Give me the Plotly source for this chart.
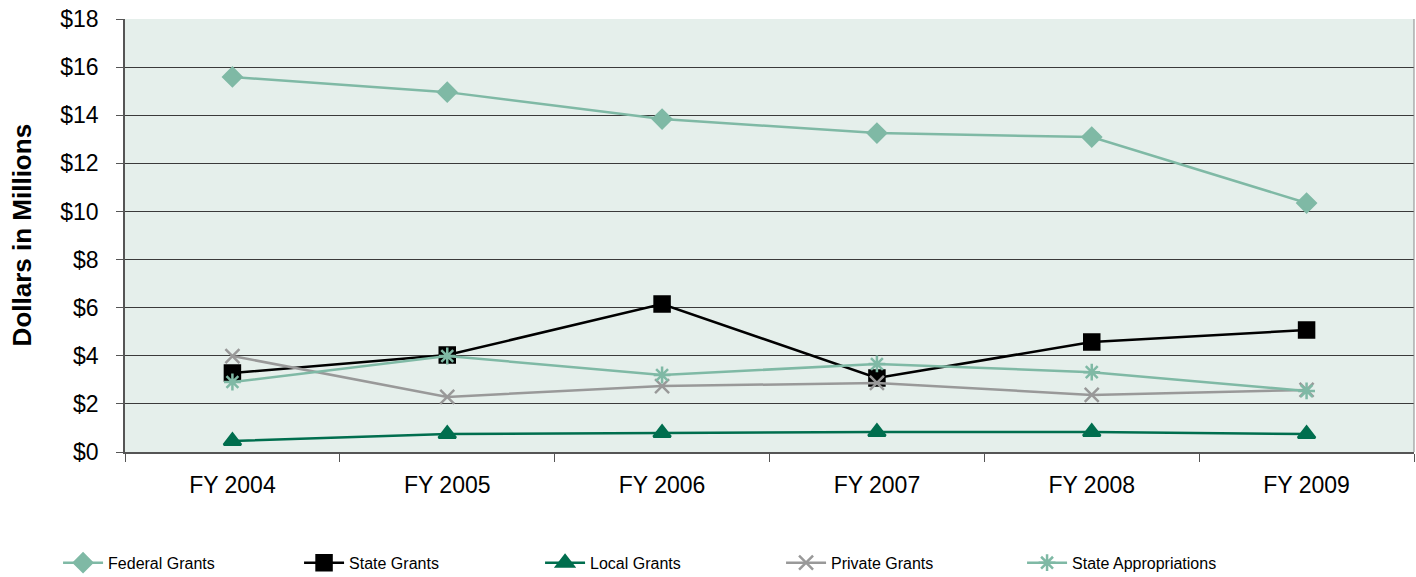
import plotly.graph_objects as go

years = ["FY 2004", "FY 2005", "FY 2006", "FY 2007", "FY 2008", "FY 2009"]
federal_grants = [15.59, 14.96, 13.84, 13.26, 13.09, 10.35]
state_grants = [3.28, 4.03, 6.15, 3.08, 4.57, 5.07]
local_grants = [0.46, 0.75, 0.79, 0.83, 0.83, 0.75]
private_grants = [3.99, 2.29, 2.74, 2.87, 2.37, 2.58]
state_appropriations = [2.91, 3.99, 3.20, 3.66, 3.32, 2.54]
y_ticks = list(range(0, 19, 2))

LIGHT = "#7FB9A5"
series = [
    ("Federal Grants", federal_grants, LIGHT, "diamond", 14),
    ("State Grants", state_grants, "#000000", "square", 15),
    ("Local Grants", local_grants, "#006E4E", "triangle-up", 15),
    ("Private Grants", private_grants, "#999999", "x-thin-open", 14),
    ("State Appropriations", state_appropriations, LIGHT, "asterisk-open", 14),
]

fig = go.Figure()
for name, vals, col, sym, sz in series:
    fig.add_trace(go.Scatter(
        x=years, y=vals, name=name, mode="lines+markers",
        line=dict(color=col, width=2.5),
        marker=dict(symbol=sym, size=sz, color=col,
                    line=dict(color=col, width=2.5)),
    ))

fig.update_layout(
    width=1416, height=577,
    margin=dict(l=125, r=2, t=19, b=125, autoexpand=False),
    paper_bgcolor="white",
    plot_bgcolor="#E5EFEB",
    font=dict(family="Liberation Sans, Arial, sans-serif", color="black"),
    showlegend=True,
    legend=dict(orientation="h", x=0.041, xref="container", y=0.0246, yref="container",
                xanchor="left", yanchor="middle",
                font=dict(size=16), entrywidth=186, entrywidthmode="pixels",
                itemwidth=40),
    annotations=[dict(text="<b>Dollars in Millions</b>", textangle=-90,
                      xref="paper", yref="paper", x=-0.08, y=0.5,
                      xanchor="center", yanchor="middle", showarrow=False,
                      font=dict(size=26))],
)
fig.update_xaxes(
    type="category", range=[-0.5, 5.5], showgrid=False, automargin=False,
    showline=True, linecolor="#555555", linewidth=1.5, mirror=False,
    ticks="outside", tickson="boundaries", ticklen=8, tickcolor="#555555",
    tickfont=dict(size=23), zeroline=False, ticklabelstandoff=12,
)
fig.update_yaxes(
    range=[0, 18], tickvals=y_ticks, ticktext=[f"${v}" for v in y_ticks],
    showgrid=True, gridcolor="#3a3a3a", gridwidth=1, automargin=False,
    showline=True, linecolor="#555555", linewidth=1.5,
    ticks="outside", ticklen=7, tickcolor="#555555",
    tickfont=dict(size=23), zeroline=False, ticklabelstandoff=13,
)
fig.add_shape(type="line", xref="paper", yref="paper", x0=1, x1=1, y0=0, y1=1,
              line=dict(color="#888888", width=1))

# drop the default page margin so the figure fills the window exactly
fig.write_html("out.html", config={"displayModeBar": False},
               post_script="document.body.style.margin='0';")
